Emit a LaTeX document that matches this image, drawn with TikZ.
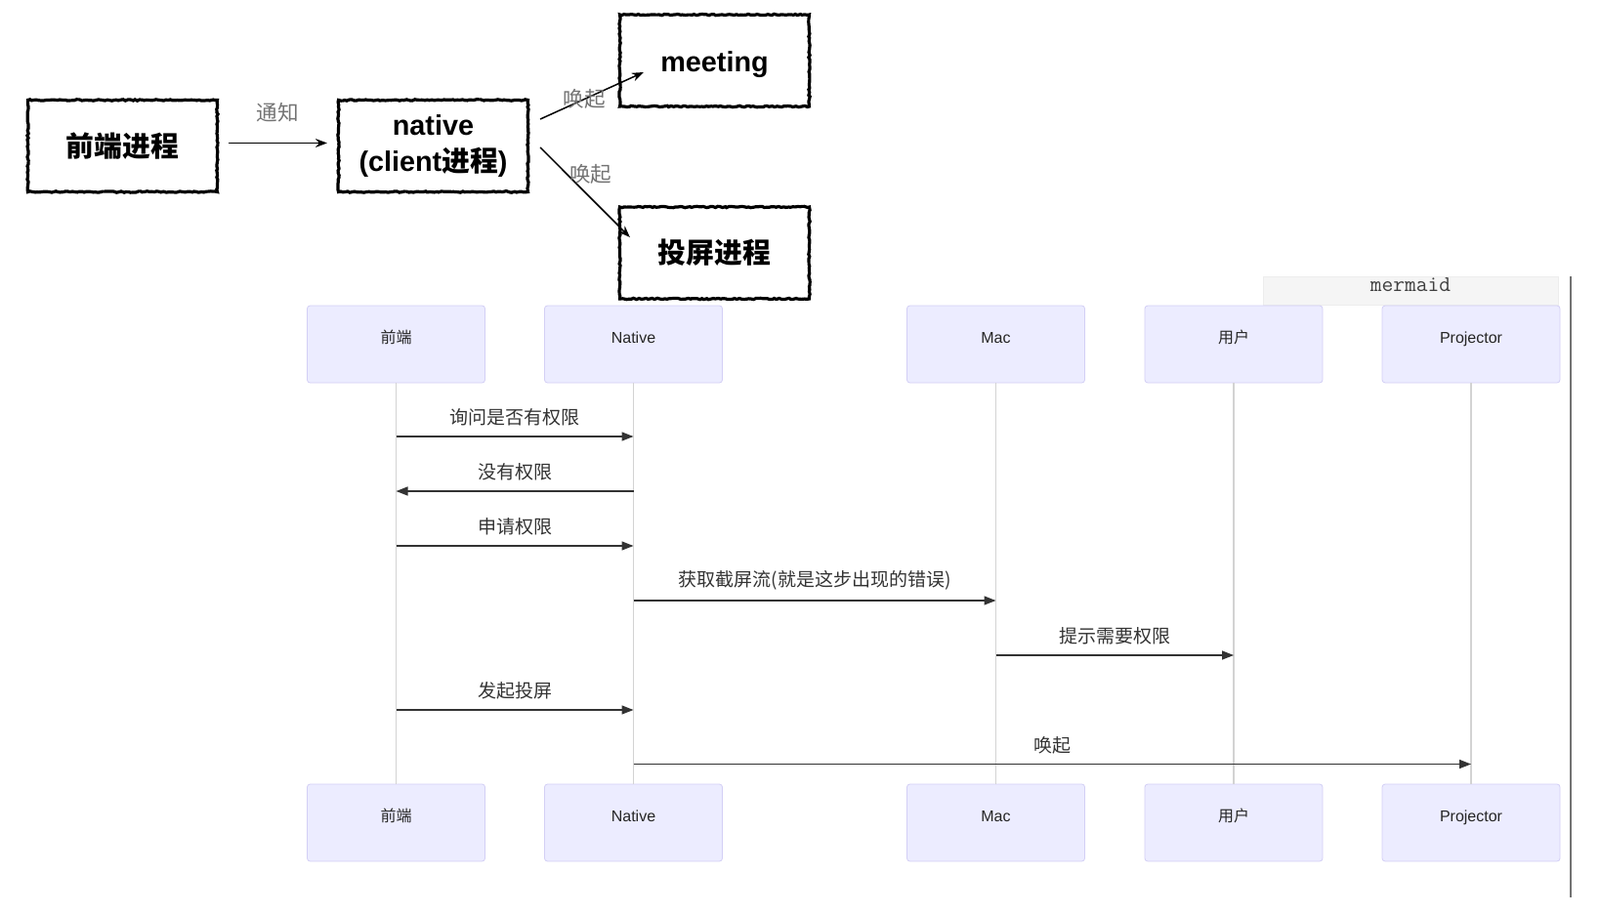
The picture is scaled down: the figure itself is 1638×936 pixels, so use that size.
\documentclass[tikz,border=0pt]{standalone}
\usepackage{fontspec}
\setmainfont{Liberation Sans}
\newfontfamily\cjk{Noto Sans CJK SC}
\usepackage{tikz}
\usetikzlibrary{shapes,arrows.meta,decorations.pathmorphing}

\definecolor{actfill}{HTML}{ECECFF}
\definecolor{actline}{HTML}{D3CFF5}
\definecolor{lifegray}{HTML}{D3D3D3}
\definecolor{msggray}{HTML}{333333}

\begin{document}
\begin{tikzpicture}[x=0.5pt,y=-0.5pt,
	proc/.style={rectangle,draw,line width=1.6pt,decorate,
		decoration={random steps,segment length=1.2pt,amplitude=0.35pt},
		minimum width=97pt,minimum height=47pt,align=center,
		font=\bfseries\fontsize{14.4}{18.5}\selectfont},
	wake/.style={font=\cjk\fontsize{10.8}{12}\selectfont,text=black!55,inner sep=1pt},
	arrow/.style={line width=0.75pt,-{Stealth[length=6pt,width=4.5pt]}},
	actor/.style={rectangle,draw=actline,fill=actfill,rounded corners=1.5pt,
		minimum width=91pt,minimum height=39.5pt,text=black!85,
		text height=5.8pt,text depth=7pt,
		font=\fontsize{8}{10}\selectfont},
	life/.style={draw=lifegray,line width=0.6pt},
	msg/.style={draw=msggray,line width=0.75pt,-{Triangle[length=6pt,width=4.5pt]}},
	msgtext/.style={font=\cjk\fontsize{9.5}{11}\selectfont,text=msggray,
		above=5pt,inner sep=0pt}]

	\useasboundingbox (0,0) rectangle (1638,936);

		\node[proc] (fe) at (125.5,149.5) {{\cjk 前端进程}};
		\node[proc] (native) at (443.5,149.5) {native\\(client{\cjk 进程})};
		\node[proc,text height=12.5pt,text depth=1pt] (meeting) at (731.5,62) {meeting};
		\node[proc] (cast) at (731.5,259) {{\cjk 投屏进程}};

		\path[arrow] ([yshift=1.5pt]fe.east) edge[shorten <=5pt,shorten >=5pt] node[midway,above=9.5pt,wake]
			{通知} ([yshift=1.5pt]native.west);
		\path[arrow] ([shift={(11,-27.5)}]native.east) edge node[pos=0.43,wake]
			{唤起} ([shift={(26,12)}]meeting.west);
		\path[arrow] ([shift={(11,1.5)}]native.east) edge node[pos=0.3,right,wake]
			{唤起} ([shift={(12,-16)}]cast.west);

		\node[rectangle,fill=black!4,draw=black!7,minimum width=151pt,minimum height=14.5pt,
			inner sep=1pt,text height=6pt,text depth=5pt,
			text=black!75,font=\ttfamily\fontsize{11.4}{13}\selectfont] (mm) at (1444,297.5) {mermaid};
		\draw[line width=1pt,black!55] (1608,283) -- (1608,919);

		\node[actor] (ft) at (405.5,352.5) {{\cjk 前端}};
		\node[actor] (nt) at (648.5,352.5) {Native};
		\node[actor] (mt) at (1019.5,352.5) {Mac};
		\node[actor] (ut) at (1263,352.5) {{\cjk 用户}};
		\node[actor] (pjt) at (1506,352.5) {Projector};
		\node[actor] (fb) at (405.5,842.5) {{\cjk 前端}};
		\node[actor] (nb) at (648.5,842.5) {Native};
		\node[actor] (mb) at (1019.5,842.5) {Mac};
		\node[actor] (ub) at (1263,842.5) {{\cjk 用户}};
		\node[actor] (pjb) at (1506,842.5) {Projector};

		\draw[life] (ft) -- (fb);
		\draw[life] (nt) -- (nb);
		\draw[life] (mt) -- (mb);
		\draw[life] (ut) -- (ub);
		\draw[life] (pjt) -- (pjb);

		\coordinate (r1) at (0,447);
		\coordinate (r2) at (0,503);
		\coordinate (r3) at (0,559);
		\coordinate (r4) at (0,615);
		\coordinate (r5) at (0,671);
		\coordinate (r6) at (0,727);
		\coordinate (r7) at (0,782.5);

		\draw[msg] (ft |- r1) -- node[msgtext] {询问是否有权限} (nt |- r1);
		\draw[msg] (nt |- r2) -- node[msgtext] {没有权限} (ft |- r2);
		\draw[msg] (ft |- r3) -- node[msgtext] {申请权限} (nt |- r3);
		\draw[msg] (nt |- r4) -- node[msgtext] {获取截屏流(就是这步出现的错误)} (mt |- r4);
		\draw[msg] (mt |- r5) -- node[msgtext] {提示需要权限} (ut |- r5);
		\draw[msg] (ft |- r6) -- node[msgtext] {发起投屏} (nt |- r6);
		\draw[msg] (nt |- r7) -- node[msgtext] {唤起} (pjt |- r7);

	\end{tikzpicture}
\end{document}
